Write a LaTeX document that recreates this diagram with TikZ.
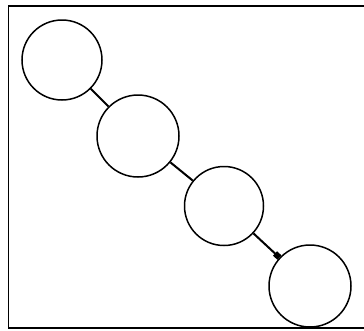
\documentclass[tikz,border=0pt]{standalone}
\usetikzlibrary{arrows.meta}
\begin{document}
\begin{tikzpicture}[x=1pt,y=-1pt,
  ball/.style={circle,draw,line width=1.5pt,minimum size=80pt,inner sep=0pt},
  link/.style={line width=2pt},
  frameline/.style={line width=1.4pt}]
\useasboundingbox (0,0) rectangle (364,330);
\draw[frameline] (364,6) -- (8.5,6) -- (8.5,328) -- (364,328);
\node[ball] (c1) at (62,60) {};
\node[ball,minimum size=82pt] (c2) at (138,136) {};
\node[ball,minimum size=79pt] (c3) at (224,206) {};
\node[ball,minimum size=82pt] (c4) at (310,286) {};
\draw[link] (c1) -- (c2);
\draw[link] (c2) -- (c3);
\draw[link,-{Square[length=6pt,width=6pt]}] (c3) -- (c4);
\end{tikzpicture}
\end{document}
